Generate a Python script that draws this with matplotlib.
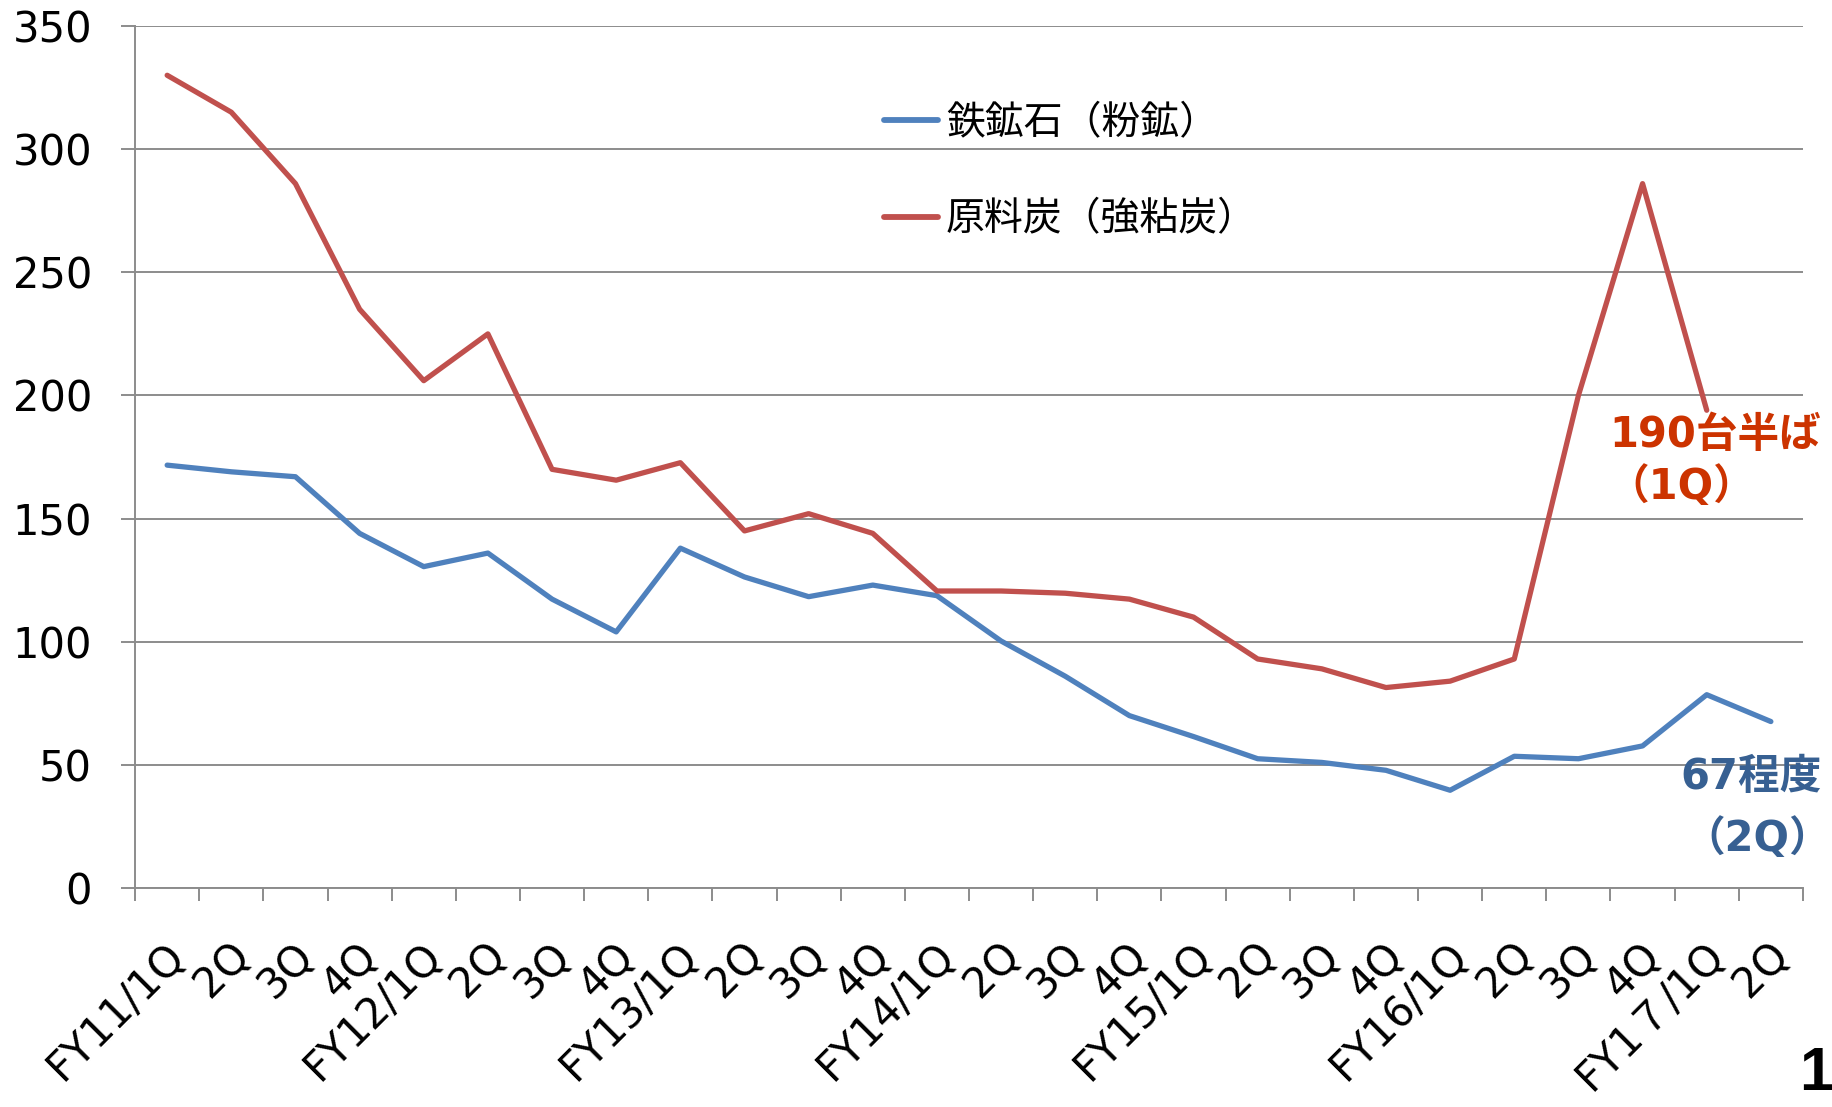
import matplotlib.pyplot as plt
import matplotlib.transforms as mtransforms
import numpy as np

# quarters FY11/1Q .. FY17/2Q
quarters = ["FY11/1Q", "2Q", "3Q", "4Q",
            "FY12/1Q", "2Q", "3Q", "4Q",
            "FY13/1Q", "2Q", "3Q", "4Q",
            "FY14/1Q", "2Q", "3Q", "4Q",
            "FY15/1Q", "2Q", "3Q", "4Q",
            "FY16/1Q", "2Q", "3Q", "4Q",
            "FY1７/1Q", "2Q"]

iron_ore = [171.7, 169, 167, 144, 130.5, 136, 117.3, 104, 138, 126.3, 118.3, 123,
            118.7, 100.3, 86, 70, 61.5, 52.5, 51, 47.8, 39.7, 53.5, 52.5, 57.7, 78.5, 67.6]
coking_coal = [330, 315, 286, 235, 206, 225, 170, 165.6, 172.7, 145, 152, 144,
               120.6, 120.6, 119.7, 117.3, 110, 93, 89, 81.4, 84, 93, 200, 286, 194]

legend_labels = ["鉄鉱石（粉鉱）", "原料炭（強粘炭）"]
blue = "#4F81BD"
red = "#C0504D"
grid_gray = "#8c8c8c"

fig = plt.figure(figsize=(18.33, 11.07), dpi=100)
ax = fig.add_axes([0.0737, 0.1978, 0.9099, 0.7787])

x_iron = np.arange(len(iron_ore))
x_coal = np.arange(len(coking_coal))
l1, = ax.plot(x_iron, iron_ore, color=blue, lw=3.8, solid_joinstyle='round', solid_capstyle='round')
l2, = ax.plot(x_coal, coking_coal, color=red, lw=3.8, solid_joinstyle='round', solid_capstyle='round')

ax.set_xlim(-0.5, len(quarters) - 0.5)
ax.set_ylim(0, 350)
ax.set_yticks(np.arange(0, 351, 50))
ax.yaxis.grid(True, color=grid_gray, lw=1.4)
ax.set_axisbelow(True)
for s in ['top', 'right']:
    ax.spines[s].set_visible(False)
for s in ['left', 'bottom']:
    ax.spines[s].set_color(grid_gray)
    ax.spines[s].set_linewidth(1.4)

ax.tick_params(axis='y', direction='out', length=10, width=1.4, color=grid_gray,
               pad=21, labelsize=30)
ax.set_xticks(np.arange(-0.5, len(quarters)), minor=True)
ax.tick_params(axis='x', which='minor', direction='out', length=9.5, width=1.4, color=grid_gray)
ax.set_xticks(np.arange(len(quarters)))
ax.set_xticklabels(quarters, rotation=45, ha='right', va='center', rotation_mode='anchor',
                   fontsize=30, family=['DejaVu Sans', 'Noto Sans CJK JP'])
ax.tick_params(axis='x', which='major', length=0, pad=44)
offset = mtransforms.ScaledTranslation(0.12, 0, fig.dpi_scale_trans)
for lab in ax.get_xticklabels():
    lab.set_transform(lab.get_transform() + offset)

leg = ax.legend([l1, l2], legend_labels, frameon=False, loc='upper left',
                bbox_to_anchor=(0.482, 0.907), bbox_transform=fig.transFigure,
                prop={'family': ['Noto Sans CJK JP'], 'size': 28},
                handlelength=1.4, handletextpad=0.2, labelspacing=1.45, borderpad=0, borderaxespad=0)
for h in leg.legend_handles:
    h.set_linewidth(4.2)

ann_font = ['DejaVu Sans', 'Noto Sans CJK JP']
ax.text(24.13, 184, "190台半ば", color="#CC3300", fontsize=30, fontweight='bold',
        family=ann_font, ha='center', va='center')
ax.text(23.6, 163, "（1Q）", color="#CC3300", fontsize=30, fontweight='bold',
        family=ann_font, ha='center', va='center')
ax.text(24.69, 45, "67程度", color="#376092", fontsize=30, fontweight='bold',
        family=ann_font, ha='center', va='center', clip_on=False)
ax.text(24.78, 20, "（2Q）", color="#376092", fontsize=30, fontweight='bold',
        family=ann_font, ha='center', va='center', clip_on=False)

fig.text(0.9907, 0.0298, "1", fontsize=44, fontweight='bold', family='Liberation Sans',
         ha='center', va='center')

fig.savefig("out.png", dpi=100)
